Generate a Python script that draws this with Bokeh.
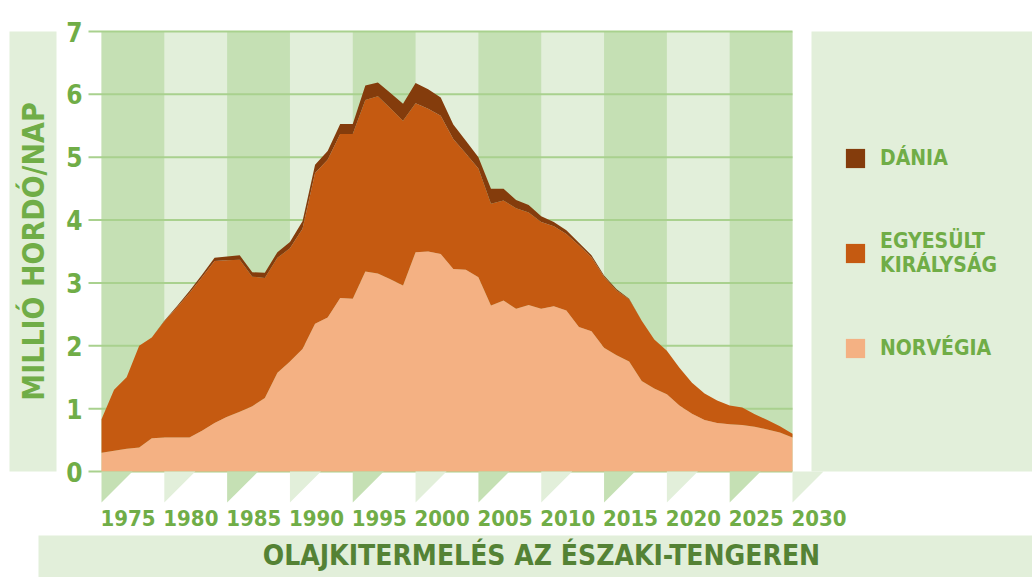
import math
from bokeh.plotting import figure
from bokeh.models import (ColumnDataSource, Label, LabelSet, Legend, LegendItem, Range1d)
from bokeh.core.properties import value
from bokeh.embed import file_html
from bokeh.resources import INLINE

# ---------------- data (million barrels / day) ----------------
years = list(range(1975, 2031))
norway = [0.30, 0.33, 0.36, 0.38, 0.53, 0.54, 0.54, 0.54, 0.65, 0.77,
          0.87, 0.95, 1.04, 1.17, 1.57, 1.75, 1.95, 2.35, 2.45, 2.76,
          2.75, 3.18, 3.15, 3.06, 2.96, 3.49, 3.50, 3.46, 3.22, 3.21,
          3.09, 2.64, 2.72, 2.59, 2.65, 2.59, 2.63, 2.56, 2.30, 2.23,
          1.97, 1.85, 1.75, 1.44, 1.32, 1.23, 1.05, 0.92, 0.82, 0.77,
          0.75, 0.74, 0.71, 0.67, 0.62, 0.54]
uk = [0.53, 0.97, 1.14, 1.62, 1.60, 1.85, 2.07, 2.30, 2.44, 2.58,
      2.49, 2.42, 2.06, 1.91, 1.83, 1.80, 1.91, 2.40, 2.51, 2.61,
      2.62, 2.73, 2.82, 2.72, 2.62, 2.37, 2.27, 2.20, 2.07, 1.85,
      1.73, 1.62, 1.59, 1.60, 1.47, 1.38, 1.27, 1.22, 1.30, 1.18,
      1.13, 1.03, 0.99, 0.96, 0.78, 0.69, 0.60, 0.49, 0.42, 0.36,
      0.30, 0.28, 0.20, 0.15, 0.10, 0.06]
denmark = [0.00, 0.00, 0.00, 0.00, 0.00, 0.01, 0.02, 0.03, 0.04, 0.05,
           0.06, 0.07, 0.07, 0.08, 0.09, 0.10, 0.12, 0.13, 0.14, 0.16,
           0.16, 0.23, 0.22, 0.24, 0.27, 0.32, 0.31, 0.29, 0.23, 0.20,
           0.18, 0.24, 0.19, 0.13, 0.12, 0.09, 0.07, 0.06, 0.04, 0.03,
           0.02, 0.02, 0.01, 0.00, 0.00, 0.00, 0.00, 0.00, 0.00, 0.00,
           0.00, 0.00, 0.00, 0.00, 0.00, 0.00]
tick_years = list(range(1975, 2031, 5))
y_ticks = list(range(0, 8))
series_labels = ["DÁNIA", "EGYESÜLT\nKIRÁLYSÁG", "NORVÉGIA"]
y_title = "MILLIÓ HORDÓ/NAP"
x_title = "OLAJKITERMELÉS AZ ÉSZAKI-TENGEREN"

# ---------------- style ----------------
FONT = "DejaVu Sans Condensed"
TXT = "#70ad47"
TXT_DARK = "#548235"
LIGHT = "#e2efda"
DARK = "#c5e0b4"
GRID = "#a9d18e"
C_DK, C_UK, C_NO = "#843c0c", "#c55a11", "#f4b183"

W, H = 1032, 577
PX_L, PX_R, PX_T, PX_B = 101, 792, 31, 471      # plot area in canvas pixels
X0, X1 = years[0], years[-1]
Y0, Y1 = y_ticks[0], y_ticks[-1]


def xd(px):
    return X0 + (px - PX_L) * (X1 - X0) / (PX_R - PX_L)


def yd(py):
    return Y0 + (PX_B - py) * (Y1 - Y0) / (PX_B - PX_T)


p = figure(width=W, height=H,
           x_range=Range1d(xd(0), xd(W)), y_range=Range1d(yd(H), yd(0)),
           output_backend="svg", toolbar_location=None,
           x_axis_location=None, y_axis_location=None, min_border=0,
           background_fill_color="white", border_fill_color="white",
           outline_line_color=None)
p.grid.visible = False

# plot background + alternating 5-year bands
p.quad(left=X0, right=X1, bottom=Y0, top=Y1, fill_color=LIGHT, line_color=None)
band_left = tick_years[0:-1:2]
band_right = tick_years[1::2]
p.quad(left=band_left, right=band_right, bottom=Y0, top=Y1,
       fill_color=DARK, line_color=None)

# horizontal grid lines (with short outward ticks)
p.segment(x0=[xd(88)] * len(y_ticks), x1=[X1] * len(y_ticks), y0=y_ticks, y1=y_ticks,
          line_color=GRID, line_width=2)

src = ColumnDataSource(dict(year=years, norway=norway, uk=uk, denmark=denmark))
r_no, r_uk, r_dk = p.varea_stack(["norway", "uk", "denmark"], x="year",
                                 color=[C_NO, C_UK, C_DK], source=src)

# side panels
p.quad(left=xd(9), right=xd(56), bottom=Y0, top=Y1, fill_color=LIGHT, line_color=None)
p.quad(left=xd(811), right=xd(W + 5), bottom=Y0, top=Y1, fill_color=LIGHT, line_color=None)
p.quad(left=xd(38), right=xd(W + 5), bottom=yd(H + 5), top=yd(535),
       fill_color=LIGHT, line_color=None)

# triangles under the ticks
dx = 31 * (X1 - X0) / (PX_R - PX_L)
dy = 31 * (Y1 - Y0) / (PX_B - PX_T)
p.patches(xs=[[t, t + dx, t] for t in tick_years],
          ys=[[Y0, Y0, Y0 - dy] for t in tick_years],
          fill_color=[DARK if i % 2 == 0 else LIGHT for i in range(len(tick_years))],
          line_color=None)

# tick labels
xl_src = ColumnDataSource(dict(x=tick_years, y=[Y0] * len(tick_years),
                               text=[str(t) for t in tick_years]))
p.add_layout(LabelSet(x="x", y="y", text="text", source=xl_src,
                      x_offset=-1, y_offset=-46, text_align="left",
                      text_baseline="middle", text_font=value(FONT),
                      text_font_style="bold", text_font_size="22px",
                      text_color=TXT))
yl_src = ColumnDataSource(dict(x=[X0] * len(y_ticks), y=y_ticks,
                               text=[str(v) for v in y_ticks]))
p.add_layout(LabelSet(x="x", y="y", text="text", source=yl_src,
                      x_offset=-19, y_offset=0, text_align="right",
                      text_baseline="middle", text_font=value(FONT),
                      text_font_style="bold", text_font_size="26px",
                      text_color=TXT))

p.add_layout(Label(x=xd(33), y=(Y0 + Y1) / 2, text=y_title, angle=math.pi / 2,
                   text_align="center", text_baseline="middle", text_font=FONT,
                   text_font_style="bold", text_font_size="30px", text_color=TXT))
p.add_layout(Label(x=xd(541), y=yd(555), text=x_title,
                   text_align="center", text_baseline="middle", text_font=FONT,
                   text_font_style="bold", text_font_size="28px", text_color=TXT_DARK))

legend = Legend(items=[LegendItem(label=series_labels[0], renderers=[r_dk]),
                       LegendItem(label=series_labels[1], renderers=[r_uk]),
                       LegendItem(label=series_labels[2], renderers=[r_no])],
                location=(843, 217), orientation="vertical",
                glyph_width=24, glyph_height=24, label_standoff=13, spacing=59,
                padding=0, margin=0, border_line_color=None, background_fill_alpha=0,
                label_text_font=FONT, label_text_font_style="bold",
                label_text_font_size="21px", label_text_color=TXT)
p.add_layout(legend)

open("out.html", "w").write(file_html(p, INLINE))
